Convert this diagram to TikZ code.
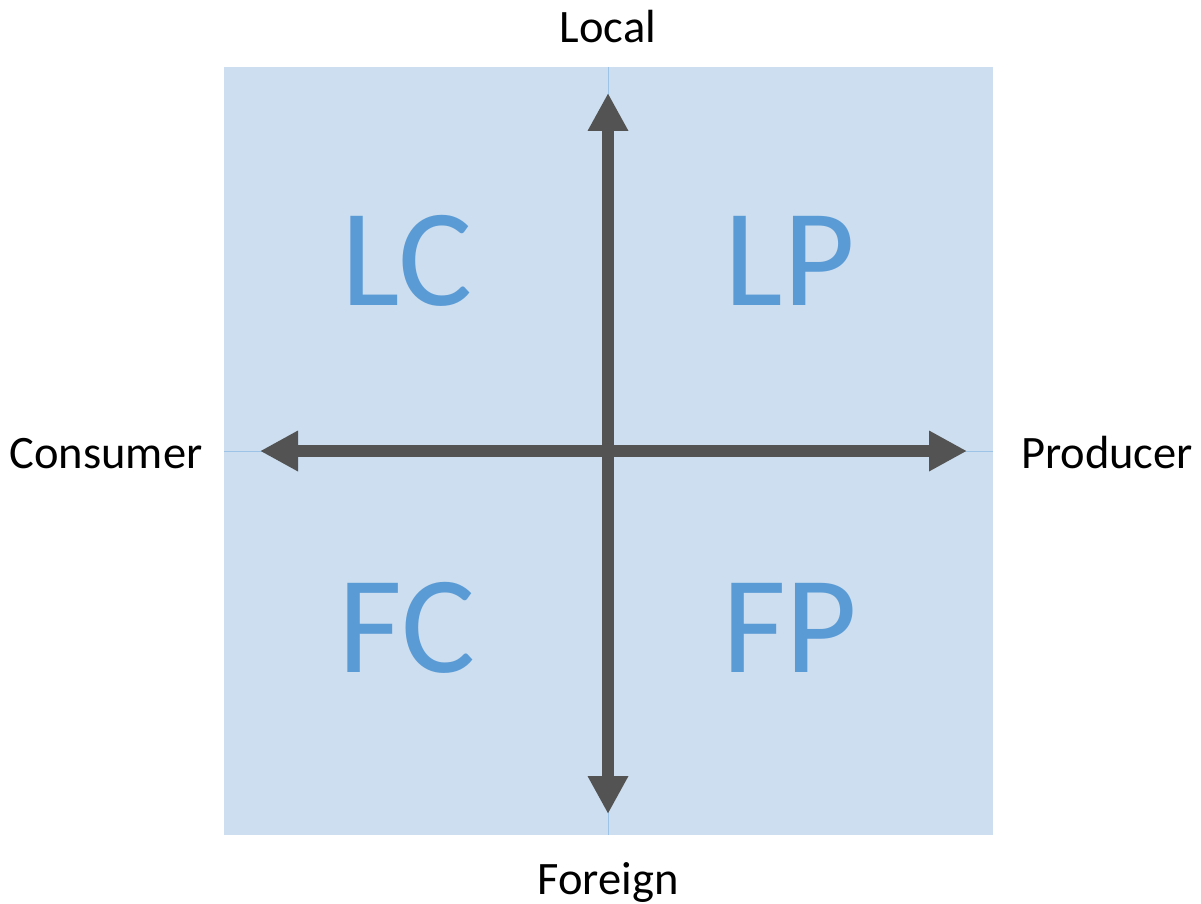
\documentclass[tikz,border=0pt]{standalone}
\usepackage{fontspec}
\setmainfont{Carlito}
\usetikzlibrary{arrows.meta}
\definecolor{bgblue}{HTML}{CCDEEF}
\definecolor{gridblue}{HTML}{9DC3E6}
\definecolor{axisgray}{HTML}{535353}
\definecolor{letterblue}{HTML}{5B9BD5}
\tikzset{
  axisline/.style={draw=axisgray, line width=12pt, arrows={Triangle[length=38pt,width=38pt]-Triangle[length=38pt,width=38pt]}},
  gridline/.style={draw=gridblue, line width=1pt},
  axislabel/.style={font=\fontsize{46.5}{50}\selectfont, text=black, anchor=base, inner sep=0pt},
  quadlabel/.style={font=\fontsize{139}{140}\selectfont, text=letterblue, anchor=base, inner sep=0pt}
}
\begin{document}
\begin{tikzpicture}[x=1pt,y=-1pt]
\useasboundingbox (0,0) rectangle (1201,904);
\fill[bgblue] (224,67) rectangle (993,835);
\draw[gridline] (608,67) -- (608,835);
\draw[gridline] (224,451) -- (993,451);
% quadrant letters
\node[quadlabel] (lc) at (407,305) {LC};
\node[quadlabel] (lp) at (790,305) {LP};
\node[quadlabel] (fc) at (407,672) {FC};
\node[quadlabel] (fp) at (790,672) {FP};
% axes
\coordinate (top) at (608,93);
\coordinate (bot) at (608,814);
\coordinate (lft) at (260,451);
\coordinate (rgt) at (967,451);
\draw[axisline] (bot) -- (top);
\draw[axisline] (lft) -- (rgt);
% labels
\node[axislabel] (local) at (608,43) {Local};
\node[axislabel] (foreign) at (608,894) {Foreign};
\node[axislabel] (consumer) at (106,468) {Consumer};
\node[axislabel] (producer) at (1107,468) {Producer};
\end{tikzpicture}
\end{document}
